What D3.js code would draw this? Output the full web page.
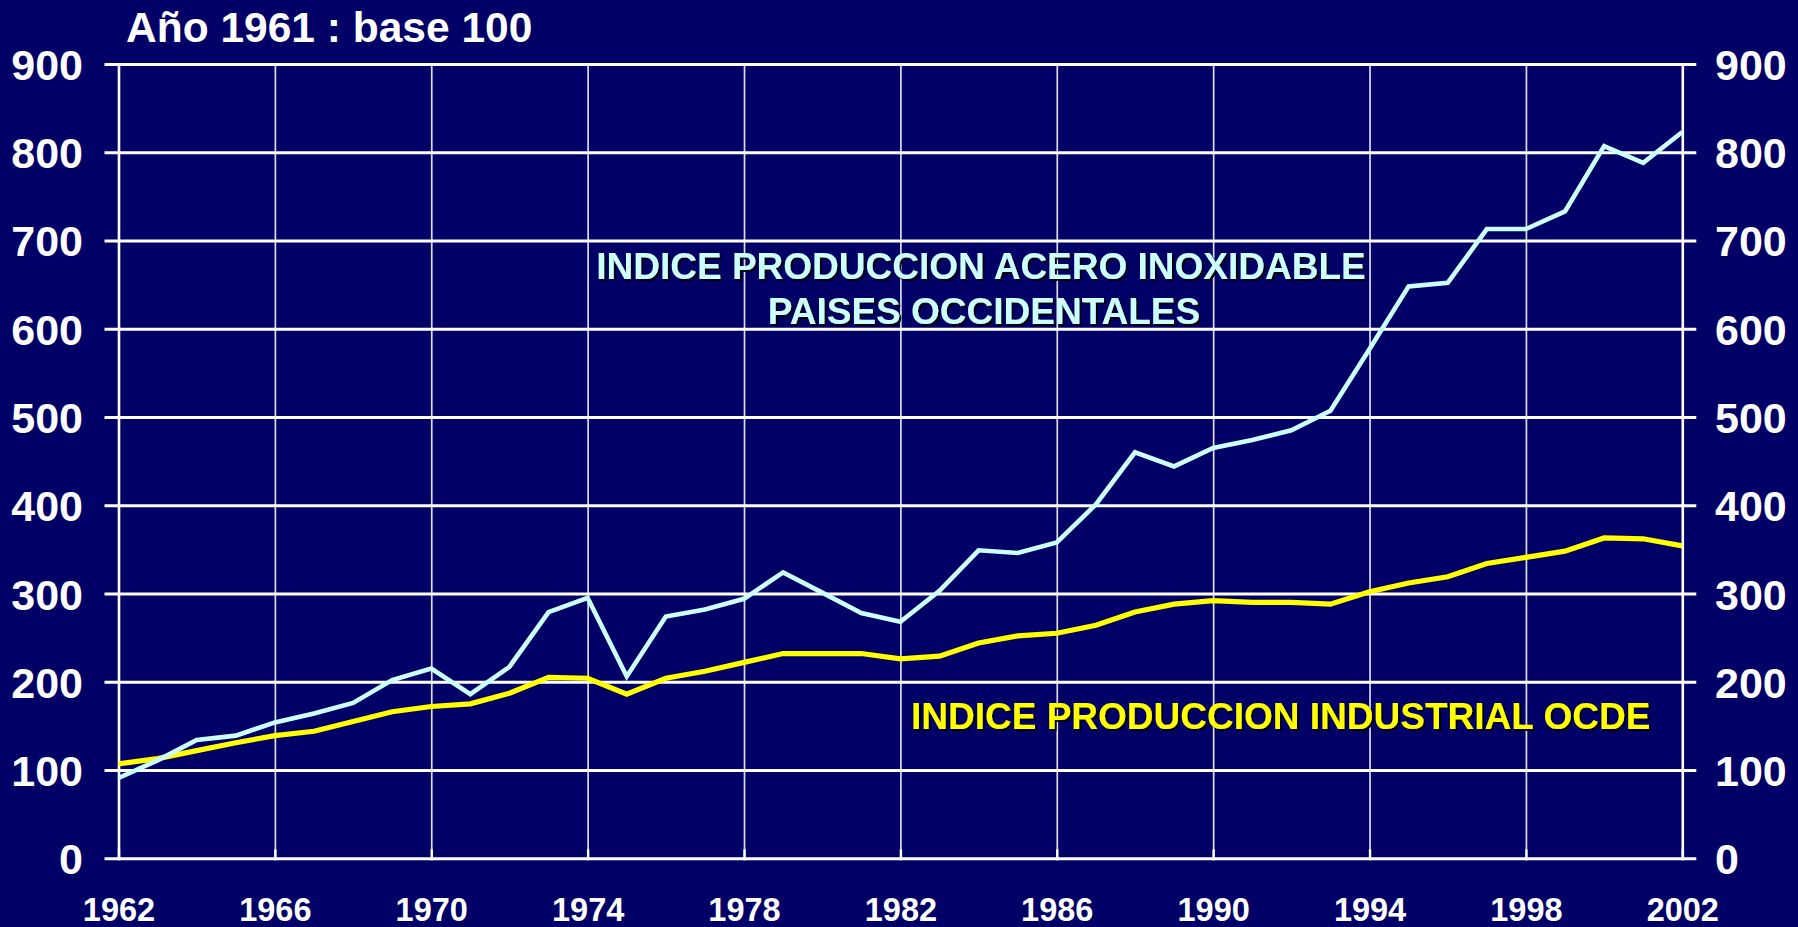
<!DOCTYPE html>
<html>
<head>
<meta charset="utf-8">
<script src="https://cdn.jsdelivr.net/npm/d3@7"></script>
<style>
  html, body { margin: 0; padding: 0; background: #000066; }
  svg { display: block; }
  text { font-family: "Liberation Sans", Arial, sans-serif; font-weight: bold; }
</style>
</head>
<body>
<svg id="chart" width="1798" height="927"></svg>
<script>
// ---- data ----
const years = d3.range(1962, 2003);
const steelIndex = [
  91, 111, 134, 139, 154, 164, 176, 202, 215, 186,
  217, 279, 295, 206, 274, 282, 294, 324, 301, 278,
  268, 303, 349, 346, 358, 401, 460, 444, 465, 474,
  485, 507, 577, 648, 652, 713, 713, 733, 807, 788,
  823
];
const industryIndex = [
  107, 113, 122, 131, 139, 144, 155, 166, 172, 175,
  187, 205, 204, 186, 204, 212, 222, 232, 232, 232,
  226, 229, 244, 252, 255, 264, 279, 288, 292, 290,
  290, 288, 302, 312, 319, 334, 341, 348, 363, 362,
  354
];
const yTicks = [0, 100, 200, 300, 400, 500, 600, 700, 800, 900];
const xTicks = [1962, 1966, 1970, 1974, 1978, 1982, 1986, 1990, 1994, 1998, 2002];
const titleText = "Año 1961 : base 100";
const steelLabel = ["INDICE PRODUCCION ACERO INOXIDABLE", "PAISES OCCIDENTALES"];
const industryLabel = "INDICE PRODUCCION INDUSTRIAL OCDE";

(function () {
// ---- layout ----
const svg = d3.select("#chart");
const W = 1798, H = 927;
const pLeft = 118.5, pRight = 1682.3, pTop = 64, pBottom = 858.3;
const x = d3.scaleLinear().domain([1962, 2002]).range([pLeft, pRight]);
const y = d3.scaleLinear().domain([0, 900]).range([pBottom, pTop]);
const FONT = "'Liberation Sans', Arial, sans-serif";

svg.append("rect").attr("width", W).attr("height", H).attr("fill", "#000066");

const defs = svg.append("defs");
const f = defs.append("filter").attr("id", "shadow").attr("x", "-5%").attr("y", "-20%")
  .attr("width", "110%").attr("height", "150%");
f.append("feDropShadow").attr("dx", 2).attr("dy", 2).attr("stdDeviation", 0.4)
  .attr("flood-color", "#000000").attr("flood-opacity", 0.9);

// vertical grid lines (x axis)
const xGrid = d3.axisBottom(x).tickValues(xTicks).tickSize(-(pBottom - pTop)).tickFormat("");
const gx = svg.append("g").attr("transform", `translate(0,${pBottom})`).call(xGrid);
gx.select(".domain").remove();
gx.selectAll(".tick line").attr("stroke", "#dcdcec").attr("stroke-width", 1.7);
gx.selectAll(".tick").filter(d => d === 1962 || d === 2002)
  .select("line").attr("stroke", "#ffffff").attr("stroke-width", 2.6);

// small inner ticks at the bottom
const xTickMarks = d3.axisBottom(x).tickValues(xTicks).tickSizeInner(-11).tickSizeOuter(0).tickFormat("");
const gxt = svg.append("g").attr("transform", `translate(0,${pBottom + 2})`).call(xTickMarks);
gxt.select(".domain").remove();
gxt.selectAll(".tick line").attr("stroke", "#ffffff").attr("stroke-width", 2.4);

// horizontal grid lines (y axis) with outer ticks on both sides
const yGrid = d3.axisLeft(y).tickValues(yTicks).tickSize(-(pRight - pLeft) - 28).tickFormat("");
const gy = svg.append("g").attr("transform", `translate(${pLeft - 14},0)`).call(yGrid);
gy.select(".domain").remove();
gy.selectAll(".tick line").attr("stroke", "#ffffff").attr("stroke-width", 3);

// left labels
const yl = d3.axisLeft(y).tickValues(yTicks).tickSize(0).tickPadding(0);
const gyl = svg.append("g").attr("transform", `translate(83,0)`).call(yl);
gyl.select(".domain").remove();
gyl.selectAll("text").attr("fill", "#ffffff").attr("font-size", 43)
  .attr("font-family", FONT).attr("font-weight", "bold").attr("dy", "0.36em");

// right labels
const yr = d3.axisRight(y).tickValues(yTicks).tickSize(0).tickPadding(0);
const gyr = svg.append("g").attr("transform", `translate(1715,0)`).call(yr);
gyr.select(".domain").remove();
gyr.selectAll("text").attr("fill", "#ffffff").attr("font-size", 43)
  .attr("font-family", FONT).attr("font-weight", "bold").attr("dy", "0.36em");

// bottom labels
const xl = d3.axisBottom(x).tickValues(xTicks).tickSize(0).tickPadding(0).tickFormat(d3.format("d"));
const gxl = svg.append("g").attr("transform", `translate(0,921)`).call(xl);
gxl.select(".domain").remove();
gxl.selectAll("text").attr("fill", "#ffffff").attr("font-size", 32.5)
  .attr("font-family", FONT).attr("font-weight", "bold").attr("dy", "0");

// lines
const line = d3.line().x((d, i) => x(years[i])).y(d => y(d));
svg.append("path").datum(industryIndex).attr("d", line)
  .attr("fill", "none").attr("stroke", "#ffff00").attr("stroke-width", 5.2)
  .attr("stroke-linejoin", "miter");
svg.append("path").datum(steelIndex).attr("d", line)
  .attr("fill", "none").attr("stroke", "#ccffff").attr("stroke-width", 4.6)
  .attr("stroke-linejoin", "miter");

// title
svg.append("text").attr("x", 126).attr("y", 42).attr("fill", "#ffffff")
  .attr("font-size", 42.5).text(titleText);

// annotations
const steelG = svg.append("text").attr("fill", "#ccffff").attr("font-size", 37)
  .attr("text-anchor", "middle").attr("filter", "url(#shadow)");
steelG.append("tspan").attr("x", 981).attr("y", 278.5).text(steelLabel[0]);
steelG.append("tspan").attr("x", 984).attr("y", 323.5).text(steelLabel[1]);

svg.append("text").attr("x", 911).attr("y", 728.5).attr("fill", "#ffff00")
  .attr("font-size", 37).attr("filter", "url(#shadow)").text(industryLabel);
})();
</script>
</body>
</html>
